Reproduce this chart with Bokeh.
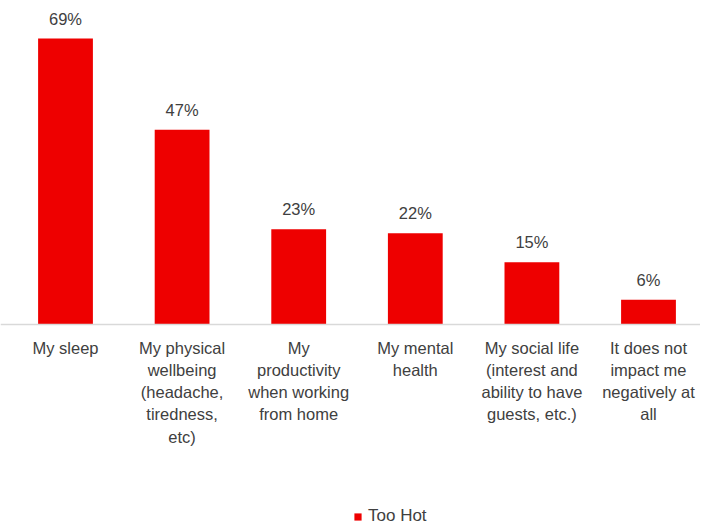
from bokeh.plotting import figure
from bokeh.models import ColumnDataSource, Range1d, Legend, LegendItem, Span
from bokeh.core.properties import value
from bokeh.embed import file_html
from bokeh.resources import INLINE

categories = [
    "My sleep",
    "My physical\nwellbeing\n(headache,\ntiredness,\netc)",
    "My\nproductivity\nwhen working\nfrom home",
    "My mental\nhealth",
    "My social life\n(interest and\nability to have\nguests, etc.)",
    "It does not\nimpact me\nnegatively at\nall",
]
too_hot = [69, 47, 23, 22, 15, 6]
series_name = "Too Hot"

xs = list(range(len(categories)))
src = ColumnDataSource(dict(
    x=xs,
    top=too_hot,
    zero=[0] * len(xs),
    label=[f"{v}%" for v in too_hot],
    cat=categories,
))

FONT = value("Liberation Sans")
TXT = "#404040"
RED = "#EE0000"

p = figure(width=700, height=524, output_backend="svg", toolbar_location=None,
           x_range=Range1d(-0.5575, 5.446), y_range=Range1d(-48.25, 78.17),
           min_border=0, outline_line_color=None)
p.xaxis.visible = False
p.yaxis.visible = False
p.xgrid.visible = False
p.ygrid.visible = False
p.background_fill_color = "white"
p.border_fill_color = "white"

bars = p.vbar(x="x", top="top", bottom=0, width=0.47, source=src,
              fill_color=RED, line_color=None)

p.add_layout(Span(location=0, dimension="width", line_color="#d9d9d9", line_width=1.5))

p.text(x="x", y="top", text="label", source=src, text_align="center",
       text_baseline="middle", y_offset=-20, text_font=FONT,
       text_font_size="16.5px", text_color=TXT)

p.text(x="x", y="zero", text="cat", source=src, text_align="center",
       text_baseline="top", y_offset=14, text_font=FONT,
       text_font_size="16.5px", text_color=TXT, text_line_height=1.24)

legend = Legend(items=[LegendItem(label=series_name, renderers=[bars])],
                location=(353, -2), orientation="horizontal",
                border_line_color=None, background_fill_alpha=0,
                label_text_font="Liberation Sans", label_text_font_size="17px",
                label_text_color=TXT, glyph_width=9, glyph_height=9,
                label_height=16, label_standoff=6, padding=0, margin=0)
p.add_layout(legend, "center")

open("out.html", "w").write(file_html(p, INLINE))
